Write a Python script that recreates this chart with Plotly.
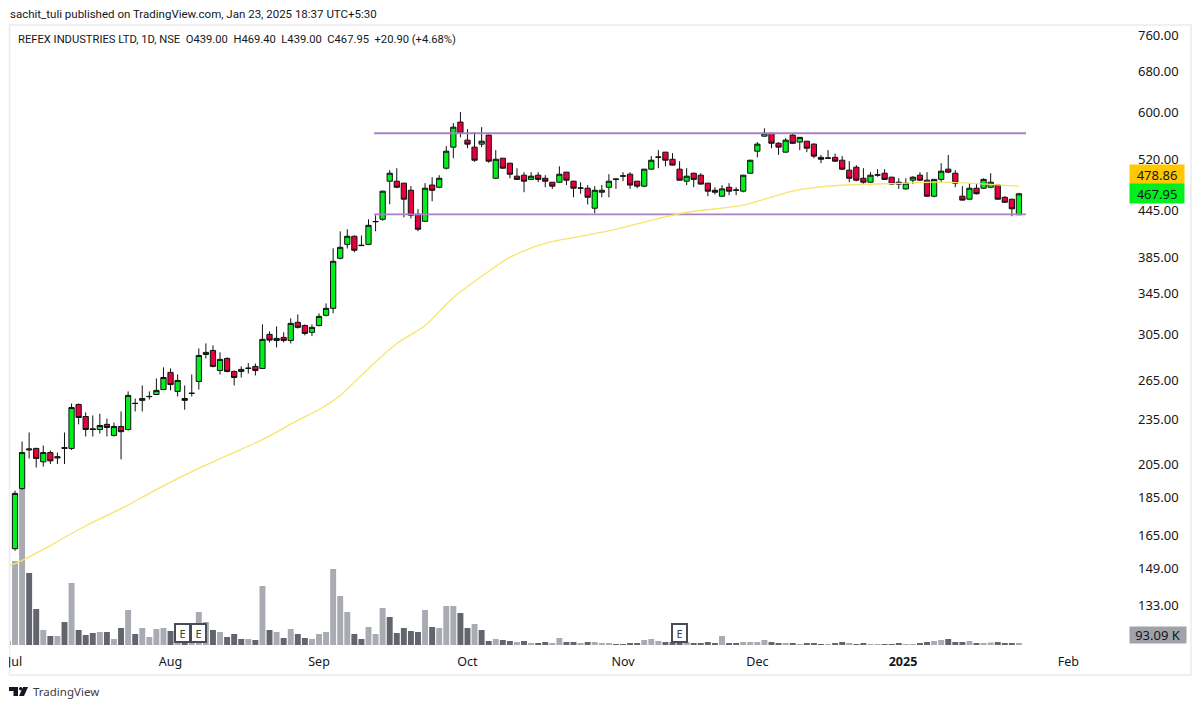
# refex_chart.py
import math
import plotly.graph_objects as go

# candles, one per session, Jul 2024 to 23 Jan 2025
opens = [158.3, 190.2, 214.0, 215, 206.4, 212.3, 208.8, 215, 215, 245.9, 237, 228.3, 227.8, 231.4, 223.7, 229.9, 227.8, 246.8, 249, 251.8,
         253.5, 257.4, 271.2, 255.9, 250.4, 254.3, 263.8, 286.5, 290, 272.8, 283, 272, 272, 274.5, 276.2, 274.5, 304.6, 299, 301.8, 299,
         316, 313, 306.5, 313, 322.8, 329.8, 384.3, 401, 411, 400, 401, 429.6, 432.9, 486.3, 486.3, 483.4, 473, 439.6, 430.3, 480.6,
         477.4, 506, 539.6, 582.5, 551.3, 539.6, 544.6, 559.8, 490.7, 521.7, 513.8, 493.8, 495.3, 489, 495.3, 490.7, 484.8, 484.8, 499.9, 486.3,
         476, 476, 447.8, 470.2, 477.4, 489, 493.8, 496.8, 486.3, 479, 504.5, 523, 531.4, 520, 504.5, 486.3, 498.3, 495.3, 483.4, 473,
         464.5, 477.4, 473, 471.7, 498.3, 533, 558, 563, 546, 531.4, 559.8, 548, 549.5, 544.6, 523, 521.7, 523, 518.5, 503, 507.5,
         490.7, 484.8, 495.3, 498.3, 492.3, 484.8, 475, 487.8, 495.3, 487.8, 464.5, 489, 504.5, 498.3, 464.5, 460.3, 476, 476, 477.4, 480.6,
         463, 460.3, 439.0]
highs = [189, 219.6, 225.7, 215.5, 216.9, 213.6, 212.3, 225.7, 246.6, 246.6, 240, 237.8, 239, 235.5, 232.7, 240.7, 255.9, 250.4, 260.6, 255.9,
         266.2, 275.4, 274.5, 269.5, 260.6, 269.5, 291.8, 296.3, 294.5, 288.3, 284, 272.8, 276.2, 279, 278.7, 314, 307.4, 312.1, 306.5, 319.9,
         323.8, 314, 314, 324.8, 334.8, 396.2, 417.3, 419.9, 412, 412, 432.9, 438.3, 472.5, 503, 506, 484, 479, 446.4, 483.4, 492.3,
         495.3, 541.3, 580.7, 600.6, 570, 565, 573.6, 560.5, 534.7, 522, 514, 506, 499.9, 499.9, 499.9, 495.3, 485, 509, 500.5, 487,
         484.8, 480.6, 479, 480.6, 496.8, 490, 499.9, 499.9, 486.8, 505, 525, 534.7, 532, 529.8, 516.9, 506, 499, 498.3, 484, 477.4,
         480.6, 483.4, 477.4, 495.8, 519, 548, 571.5, 563.5, 547.7, 554.7, 563, 556.5, 550, 546, 527, 534.7, 529, 525, 517, 510.8,
         506, 499.9, 504.5, 504.5, 493, 490.7, 490.7, 493.8, 499.9, 499.9, 489.5, 513.8, 527, 503, 479, 483.4, 482, 490.7, 498.3, 481,
         464.5, 461, 469.4]
lows = [157.3, 189.5, 208.5, 202.8, 203.4, 205, 205, 205, 214, 231.4, 223, 223, 225, 223, 223, 207.9, 227, 240.7, 240.7, 249.6,
        253, 257, 256.7, 252, 242, 252, 257.4, 283, 275.4, 269.5, 271.2, 260.6, 267, 270.3, 268.7, 274, 297.2, 292.7, 297.2, 296.3,
        310, 303.7, 303, 312, 321.8, 324.8, 383, 396, 391.4, 398.9, 400, 417.3, 431, 453.2, 476, 435.6, 434, 417.3, 429.6, 457.4,
        476, 504, 521.7, 556, 537.9, 516, 539.6, 514.5, 490, 505, 490.7, 489, 470.2, 488.7, 484.8, 477.4, 475, 484, 480.6, 463,
        468, 453, 441, 463, 463, 475, 486.3, 475, 476, 477.4, 504, 506, 509, 510, 487, 480.6, 477.4, 481.5, 464.5, 467,
        464, 466, 466, 470, 497.5, 523, 557.5, 537.9, 527, 531, 545, 534.7, 531.4, 521.7, 513.8, 521, 516, 503, 484.8, 486.3,
        480.6, 484, 493, 488, 480.6, 475, 474, 482, 486.3, 464, 463, 484.8, 498.3, 477.4, 458.5, 460, 467, 475, 477, 460,
        455, 437, 439.0]
closes = [187.4, 212.3, 214.6, 208.5, 212.3, 207, 209.6, 215.5, 243.6, 236.3, 227.8, 227.8, 230.6, 229.2, 229.9, 226.3, 252.8, 246.6, 250.4, 252,
          256.7, 267, 261.3, 264.6, 249, 254.5, 285.6, 288.3, 276.2, 282.2, 272, 267, 273.7, 274.7, 272.8, 300, 299.3, 300.9, 299, 315,
          311.2, 305.5, 311.2, 321.8, 329.8, 380.8, 397.4, 411, 393.8, 399.5, 425, 430, 471.7, 498.3, 477.4, 460.3, 438.3, 419.9, 476, 473,
          490.7, 533, 573.6, 563, 544.6, 518.5, 549.5, 517, 520, 506, 496.8, 489, 486.3, 493.8, 489, 486.3, 479, 496.8, 487.8, 476,
          476.3, 463, 473, 473, 486.3, 489.5, 494.3, 480.6, 479, 504.5, 518.5, 523.5, 518.5, 510.8, 487.8, 493.8, 489, 482, 471.7, 470.2,
          475, 471.7, 473.4, 495.3, 518.5, 544.6, 563, 546, 539.6, 551.3, 546, 556, 537.9, 525, 520, 522, 517, 504.5, 490.7, 487.8,
          484.8, 495.3, 495.8, 489, 482, 482, 483.4, 492.3, 487.8, 464.5, 489, 501.4, 499.9, 483.4, 459, 476, 468, 489, 484.8, 460.3,
          456, 447.05, 467.95]

# volume in thousands, first entry is the session before the first candle
volumes = [240, 5040, 9360, 4320, 2160, 900, 540, 540, 1380, 3720, 900, 600, 720, 780, 780, 360, 1020, 2100, 660, 1020, 480,
           960, 1020, 840, 540, 540, 720, 1980, 1380, 900, 780, 480, 660, 360, 360, 300, 3540, 900, 780, 420, 960,
           660, 420, 360, 660, 780, 4560, 2940, 1980, 660, 360, 1080, 660, 2220, 1680, 720, 1020, 840, 780, 2100, 1080,
           1020, 2340, 2340, 1920, 1020, 1260, 900, 240, 360, 300, 240, 180, 240, 120, 120, 180, 120, 420, 180, 180,
           120, 180, 180, 120, 120, 60, 60, 120, 120, 300, 360, 240, 180, 180, 180, 180, 120, 120, 180, 120,
           540, 120, 120, 180, 180, 180, 300, 180, 120, 120, 120, 60, 90, 120, 60, 60, 120, 180, 120, 60,
           120, 60, 60, 60, 60, 90, 60, 60, 120, 180, 240, 300, 360, 180, 180, 240, 120, 120, 150, 180,
           120, 120, 93.09]
vol_down = [0, 0, 0, 1, 1, 0, 1, 0, 1, 0, 1, 1, 1, 0, 1, 0, 1, 0, 1, 0, 0,
            0, 0, 1, 0, 1, 0, 0, 0, 1, 0, 1, 1, 1, 0, 1, 0, 1, 0, 1, 0,
            1, 1, 0, 0, 0, 0, 0, 0, 1, 1, 0, 0, 0, 1, 1, 1, 1, 1, 0, 1,
            0, 0, 0, 1, 1, 0, 1, 1, 0, 1, 1, 0, 1, 0, 1, 1, 0, 0, 1, 1,
            0, 1, 0, 0, 0, 1, 1, 1, 1, 0, 0, 0, 1, 1, 1, 0, 1, 1, 1, 1,
            0, 1, 1, 0, 0, 0, 0, 1, 1, 0, 1, 0, 1, 1, 1, 0, 1, 1, 0, 1,
            1, 0, 0, 1, 1, 1, 0, 0, 1, 1, 0, 0, 1, 1, 1, 0, 1, 0, 0, 1,
            1, 1, 0]

# moving average
ema_idx = [-0.7, 0, 5, 10, 15, 20, 25, 30, 35, 40, 43, 46, 50, 54, 58, 62, 66, 70, 75, 80, 85, 90, 95, 100, 103, 106, 110, 115, 120, 125, 130, 135, 142]
ema_val = [150.4, 151.2, 159.8, 169.8, 178.9, 189.6, 200.3, 210.4, 220.9, 234.2, 242.1, 252.8, 274.5, 296.3, 313, 341, 363.7, 385.5, 402.3, 411, 419.9,
           431.6, 442.3, 447.8, 451.9, 460.3, 471.7, 479, 481.8, 483, 484.8, 483.4, 478.86]

level_top = 563
level_bottom = 439.5
level_idx = [50.8, 143]

price_ticks = [760, 680, 600, 520, 445, 385, 345, 305, 265, 235, 205, 185, 165, 149, 133]
month_idx = [0, 22, 43, 64, 86, 105, 125.6, 149]
month_labels = ['Jul', 'Aug', 'Sep', 'Oct', 'Nov', 'Dec', '<b>2025</b>', 'Feb']
earnings_idx = [23.7, 26, 94]

FONT = 'Noto Sans'
HEAD_FONT = 'Roboto'
INK = '#131722'
W, H = 1200, 708
L, R, T, B = 10, 72, 25, 63


# page pixels to paper fractions, for the furniture outside the axes
def px(x):
    return (x - L) / (W - L - R)


def py(y):
    return (H - B - y) / (H - T - B)


fig = go.Figure()

fig.add_trace(go.Bar(
    x=list(range(-1, len(closes))), y=volumes, width=0.84, yaxis='y',
    marker=dict(color=['#62646e' if d else '#a9abb3' for d in vol_down], line_width=0),
))

for level in (level_top, level_bottom):
    fig.add_trace(go.Scatter(x=level_idx, y=[level, level], mode='lines', yaxis='y2',
                             line=dict(color='#a782c3', width=1.8)))

fig.add_trace(go.Scatter(x=ema_idx, y=ema_val, mode='lines', yaxis='y2',
                         line=dict(color='#f7e46c', width=1.3, shape='spline', smoothing=0.8)))

fig.add_trace(go.Candlestick(
    x=list(range(len(closes))), open=opens, high=highs, low=lows, close=closes, yaxis='y2',
    increasing=dict(fillcolor='#00f01e', line=dict(color='#111111', width=1)),
    decreasing=dict(fillcolor='#e6003c', line=dict(color='#111111', width=1)),
    whiskerwidth=0,
))

annotations = [
    dict(text='sachit_tuli published on TradingView.com, Jan 23, 2025 18:37 UTC+5:30', xref='paper', yref='paper',
         x=px(8), y=py(14), xanchor='left', yanchor='middle', showarrow=False, font=dict(family=HEAD_FONT, size=11.5, color=INK)),
    dict(text='REFEX INDUSTRIES LTD, 1D, NSE\u00a0\u00a0O439.00\u00a0\u00a0H469.40\u00a0\u00a0L439.00\u00a0\u00a0C467.95\u00a0\u00a0+20.90 (+4.68%)',
         xref='paper', yref='paper', x=px(16), y=py(40), xanchor='left', yanchor='middle', showarrow=False,
         font=dict(family=HEAD_FONT, size=11.2, color=INK)),
    dict(text='TradingView', xref='paper', yref='paper', x=px(31), y=py(691), xanchor='left', yanchor='middle',
         showarrow=False, font=dict(family=FONT, size=11.5, color='#3a3d45')),
    dict(text=f'{ema_val[-1]:.2f}', xref='paper', yref='y2', x=px(1129), y=math.log10(ema_val[-1]), yshift=11.5,
         xanchor='left', yanchor='middle', width=54, height=19, borderpad=0, bgcolor='#ffc800', showarrow=False,
         font=dict(family=FONT, size=13, color=INK)),
    dict(text=f'{closes[-1]:.2f}', xref='paper', yref='y2', x=px(1129), y=math.log10(closes[-1]),
         xanchor='left', yanchor='middle', width=54, height=19, borderpad=0, bgcolor='#00f01e', showarrow=False,
         font=dict(family=FONT, size=13, color=INK)),
    dict(text=f'{volumes[-1]:.2f} K', xref='paper', yref='paper', x=px(1129), y=py(635),
         xanchor='left', yanchor='middle', width=56, height=16, borderpad=0, bgcolor='#a0a2aa', showarrow=False,
         font=dict(family=FONT, size=13, color=INK)),
]
for idx in earnings_idx:
    annotations.append(dict(text='E', xref='x', yref='paper', x=idx, y=py(633), xanchor='center', yanchor='middle',
                            width=11, height=14, borderpad=1, borderwidth=2, bordercolor='#4a4c55', bgcolor='white',
                            showarrow=False, font=dict(family=FONT, size=11, color='#3a3d45')))

logo = (f'M {px(9)} {py(687)} L {px(18)} {py(687)} L {px(18)} {py(696)} L {px(13.5)} {py(696)} L {px(13.5)} {py(691)} L {px(9)} {py(691)} Z '
        f'M {px(23)} {py(687)} L {px(28)} {py(687)} L {px(24)} {py(696)} L {px(19)} {py(696)} Z')
shapes = [
    dict(type='rect', xref='paper', yref='paper', x0=px(9.5), x1=px(1191), y0=py(675), y1=py(25),
         line=dict(color='#ececee', width=1.5), layer='below'),
    dict(type='path', xref='paper', yref='paper', path=logo, fillcolor='#131722', line_width=0),
    dict(type='circle', xref='paper', yref='paper', x0=px(19), x1=px(22.4), y0=py(690.4), y1=py(687),
         fillcolor='#131722', line_width=0),
    # the month label at the left edge is cut by the pane border
    dict(type='rect', xref='paper', yref='paper', x0=px(0), x1=px(9), y0=py(672), y1=py(648),
         fillcolor='white', line_width=0, layer='above'),
]

fig.update_layout(
    width=W, height=H,
    margin=dict(l=L, r=R, t=T, b=B, pad=0),
    paper_bgcolor='white', plot_bgcolor='white',
    showlegend=False, hovermode=False, barmode='overlay',
    boxgap=0.2, boxgroupgap=0.07,
    annotations=annotations, shapes=shapes,
    xaxis=dict(range=[(10 - 15) / 7.07, (1128 - 15) / 7.07], tickmode='array', tickvals=month_idx, ticktext=month_labels,
               showgrid=False, zeroline=False, showline=False, ticks='', ticklabelstandoff=7, automargin=False,
               tickfont=dict(family=FONT, size=12.5, color=INK), rangeslider=dict(visible=False)),
    yaxis=dict(range=[0, 37200], visible=False, fixedrange=True, automargin=False),
    yaxis2=dict(type='log', range=[2.0717, 2.8941], overlaying='y', side='right', automargin=False,
                tickmode='array', tickvals=price_ticks, ticktext=[f'{t:.2f}' for t in price_ticks],
                showgrid=False, zeroline=False, showline=False, ticks='', ticklabelstandoff=9,
                tickfont=dict(family=FONT, size=13, color=INK)),
)

fig.write_html('out.html', post_script="document.body.style.margin='0';", config={'displayModeBar': False})
